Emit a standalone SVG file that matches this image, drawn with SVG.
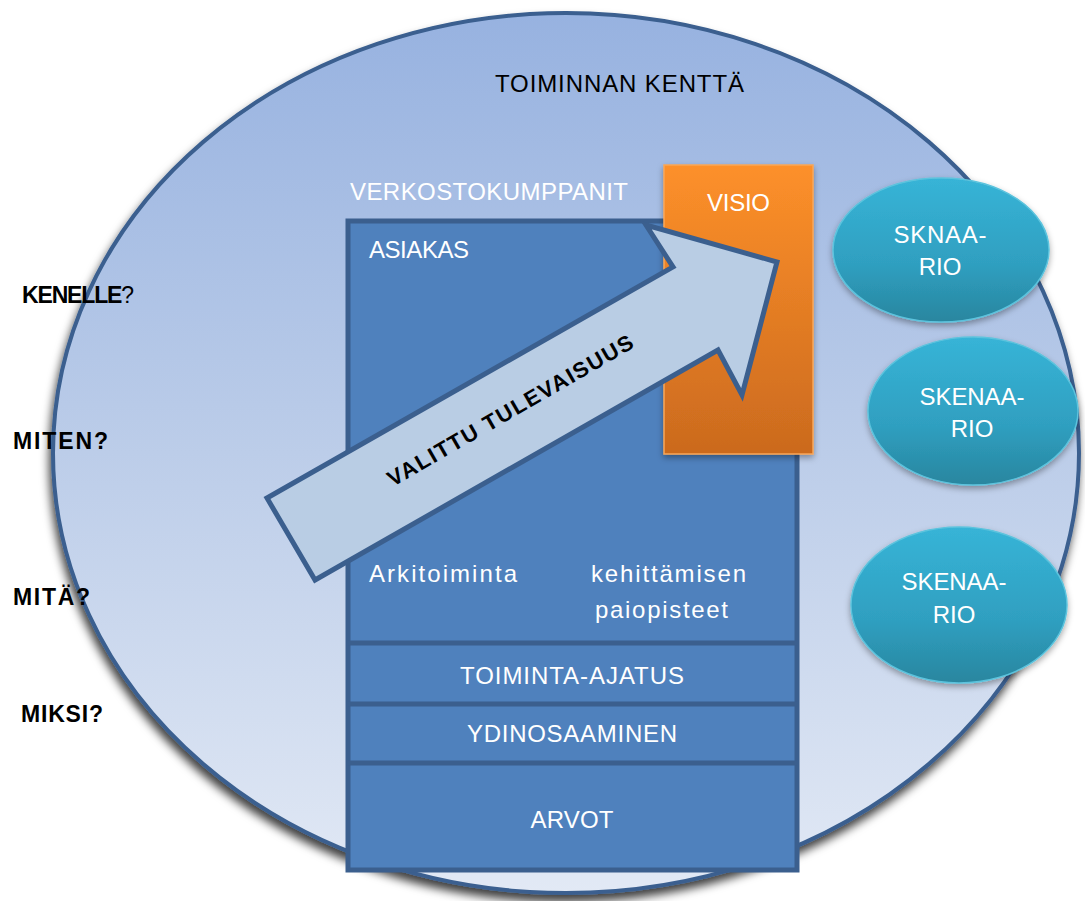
<svg xmlns="http://www.w3.org/2000/svg" width="1085" height="901" viewBox="0 0 1085 901">
<defs>
<linearGradient id="gField" x1="0" y1="0" x2="0" y2="1">
<stop offset="0" stop-color="#97b2e0"/>
<stop offset="0.5" stop-color="#bccde9"/>
<stop offset="1" stop-color="#e2e9f5"/>
</linearGradient>
<linearGradient id="gVisio" x1="0" y1="0" x2="0" y2="1">
<stop offset="0" stop-color="#fd902a"/>
<stop offset="1" stop-color="#cb6a1e"/>
</linearGradient>
<linearGradient id="gScen" x1="0" y1="0" x2="0" y2="1">
<stop offset="0" stop-color="#37b4d7"/>
<stop offset="0.6" stop-color="#2f9fc0"/>
<stop offset="1" stop-color="#29869f"/>
</linearGradient>
<filter id="shadow" x="-10%" y="-10%" width="120%" height="125%">
<feDropShadow dx="-2" dy="7" stdDeviation="5" flood-color="#000" flood-opacity="0.75"/>
</filter>
<filter id="softShadow" x="-15%" y="-15%" width="130%" height="135%">
<feDropShadow dx="0" dy="3" stdDeviation="3" flood-color="#000" flood-opacity="0.35"/>
</filter>
<style>
.lbl{font-family:"Liberation Sans",Arial,sans-serif;font-size:24px;fill:#ffffff}
.lblc{font-family:"Liberation Sans",Arial,sans-serif;font-size:24px;fill:#ffffff;text-anchor:middle}
.q{font-family:"Liberation Sans",Arial,sans-serif;font-size:23px;font-weight:bold;fill:#000000}
.blk{font-family:"Liberation Sans",Arial,sans-serif;font-size:24px;fill:#000000}
.box{fill:#4f81bd;stroke:#3b5f8e;stroke-width:5}
.div{stroke:#3b5f8e;stroke-width:5}
.scen{fill:url(#gScen);stroke:#5bc3dd;stroke-width:1.5}
</style>
</defs>
<rect width="1085" height="901" fill="#ffffff"/>

<g id="field">
<ellipse cx="566" cy="453" rx="513" ry="440" fill="url(#gField)" stroke="#3a5f8f" stroke-width="4" filter="url(#shadow)"/>
<text class="blk" x="495" y="92" textLength="249" lengthAdjust="spacing">TOIMINNAN KENTTÄ</text>
</g>

<g id="questions">
<text class="q" x="22" y="303" textLength="112" lengthAdjust="spacing">KENELLE<tspan font-weight="normal">?</tspan></text>
<text class="q" x="13" y="449" textLength="95" lengthAdjust="spacing">MITEN?</text>
<text class="q" x="13" y="605" textLength="77" lengthAdjust="spacing">MITÄ?</text>
<text class="q" x="21" y="722" textLength="82" lengthAdjust="spacing">MIKSI?</text>
</g>

<g id="verkosto">
<text class="lbl" x="350" y="200" textLength="278" lengthAdjust="spacing">VERKOSTOKUMPPANIT</text>
</g>

<g id="stack">
<rect class="box" x="348" y="221" width="449" height="649"/>
<line class="div" x1="348" y1="643" x2="797" y2="643"/>
<line class="div" x1="348" y1="704" x2="797" y2="704"/>
<line class="div" x1="348" y1="763" x2="797" y2="763"/>
<text class="lbl" x="369" y="258" textLength="100" lengthAdjust="spacing">ASIAKAS</text>
<text class="lbl" x="369" y="582" font-size="25" textLength="148" lengthAdjust="spacing">Arkitoiminta</text>
<text class="lbl" x="591" y="582" font-size="25" textLength="155" lengthAdjust="spacing">kehittämisen</text>
<text class="lbl" x="595" y="618" font-size="25" textLength="133" lengthAdjust="spacing">paiopisteet</text>
<text class="lblc" x="572" y="684" textLength="224" lengthAdjust="spacing">TOIMINTA-AJATUS</text>
<text class="lblc" x="572" y="742" textLength="210" lengthAdjust="spacing">YDINOSAAMINEN</text>
<text class="lblc" x="572" y="828" textLength="83" lengthAdjust="spacing">ARVOT</text>
</g>

<g id="visio">
<rect x="664" y="165" width="149" height="289" fill="url(#gVisio)" stroke="#f9a657" stroke-width="1.5" filter="url(#softShadow)"/>
<text class="lbl" x="707" y="211" textLength="63" lengthAdjust="spacing">VISIO</text>
</g>

<g id="arrow">
<polygon points="315,580 267,498 673,267 646,225 777,262 742,395 718,350" fill="#b9cde4" stroke="#3b5f8e" stroke-width="5" stroke-linejoin="miter"/>
<text x="514" y="417" transform="rotate(-30 514 417)" text-anchor="middle" font-family="'Liberation Sans',Arial,sans-serif" font-size="22" font-weight="bold" fill="#000000" textLength="280" lengthAdjust="spacing">VALITTU TULEVAISUUS</text>
</g>

<g id="scenario1">
<ellipse class="scen" cx="941" cy="250" rx="108" ry="72" filter="url(#softShadow)"/>
<text class="lblc" x="940" y="243" textLength="93" lengthAdjust="spacing">SKNAA-</text>
<text class="lblc" x="940" y="275">RIO</text>
</g>
<g id="scenario2">
<ellipse class="scen" cx="973" cy="411" rx="105" ry="74" filter="url(#softShadow)"/>
<text class="lblc" x="972" y="405" textLength="105" lengthAdjust="spacing">SKENAA-</text>
<text class="lblc" x="972" y="437">RIO</text>
</g>
<g id="scenario3">
<ellipse class="scen" cx="959" cy="605" rx="108" ry="78" filter="url(#softShadow)"/>
<text class="lblc" x="954" y="590" textLength="105" lengthAdjust="spacing">SKENAA-</text>
<text class="lblc" x="954" y="623">RIO</text>
</g>
</svg>
